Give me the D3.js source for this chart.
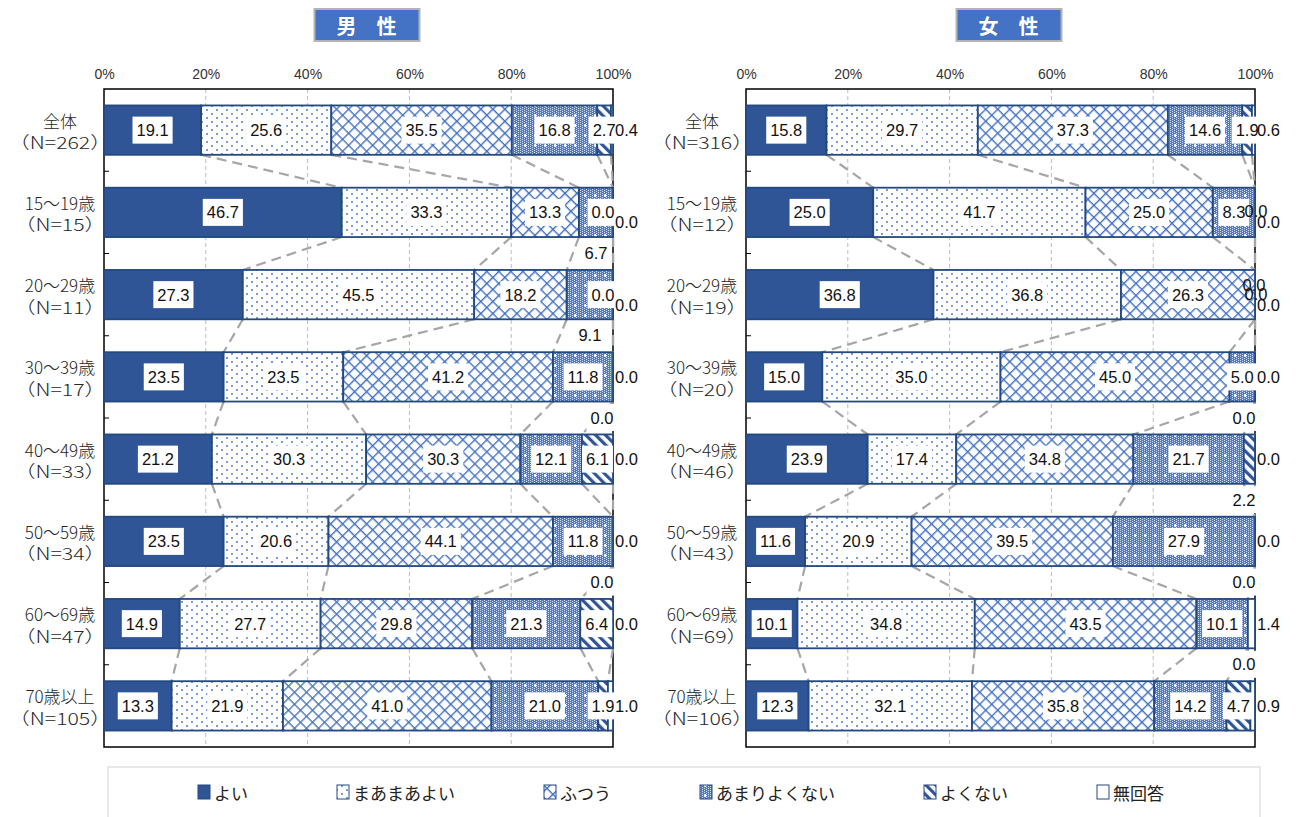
<!DOCTYPE html>
<html>
<head>
<meta charset="utf-8">
<script src="https://cdn.jsdelivr.net/npm/d3@7"></script>
<style>
  body { margin: 0; background: #fff; }
  svg { display: block; }
</style>
</head>
<body>
<svg id="chart" width="1296" height="817"></svg>
<script>
// ---- data ---------------------------------------------------------------
const categories = ["全体", "15～19歳", "20～29歳", "30～39歳", "40～49歳", "50～59歳", "60～69歳", "70歳以上"];
const seriesNames = ["よい", "まあまあよい", "ふつう", "あまりよくない", "よくない", "無回答"];
const pctTicks = [0, 20, 40, 60, 80, 100];

const maleN = [262, 15, 11, 17, 33, 34, 47, 105];
const maleGood    = [19.1, 46.7, 27.3, 23.5, 21.2, 23.5, 14.9, 13.3];
const maleFair    = [25.6, 33.3, 45.5, 23.5, 30.3, 20.6, 27.7, 21.9];
const maleNormal  = [35.5, 13.3, 18.2, 41.2, 30.3, 44.1, 29.8, 41.0];
const maleNotVery = [16.8, 6.7, 9.1, 11.8, 12.1, 11.8, 21.3, 21.0];
const maleBad     = [2.7, 0.0, 0.0, 0.0, 6.1, 0.0, 6.4, 1.9];
const maleNA      = [0.4, 0.0, 0.0, 0.0, 0.0, 0.0, 0.0, 1.0];

const femaleN = [316, 12, 19, 20, 46, 43, 69, 106];
const femaleGood    = [15.8, 25.0, 36.8, 15.0, 23.9, 11.6, 10.1, 12.3];
const femaleFair    = [29.7, 41.7, 36.8, 35.0, 17.4, 20.9, 34.8, 32.1];
const femaleNormal  = [37.3, 25.0, 26.3, 45.0, 34.8, 39.5, 43.5, 35.8];
const femaleNotVery = [14.6, 8.3, 0.0, 5.0, 21.7, 27.9, 10.1, 14.2];
const femaleBad     = [1.9, 0.0, 0.0, 0.0, 2.2, 0.0, 0.0, 4.7];
const femaleNA      = [0.6, 0.0, 0.0, 0.0, 0.0, 0.0, 1.4, 0.9];

// where each value label sits: c = centred in segment, e = just inside the bar end,
// ee = on the bar end, eu = on the bar end raised, b = below the bar,
// r = right of the bar, rl = right of the bar and lowered
const maleLabelModes = [
  ["c", "c", "c", "c", "c", "r"],
  ["c", "c", "c", "b", "e", "rl"],
  ["c", "c", "c", "b", "e", "rl"],
  ["c", "c", "c", "c", "b", "r"],
  ["c", "c", "c", "c", "c", "r"],
  ["c", "c", "c", "c", "b", "r"],
  ["c", "c", "c", "c", "c", "r"],
  ["c", "c", "c", "c", "c", "r"]
];
const femaleLabelModes = [
  ["c", "c", "c", "c", "c", "r"],
  ["c", "c", "c", "c", "ee", "rl"],
  ["c", "c", "c", "eu", "ee", "rl"],
  ["c", "c", "c", "c", "b", "r"],
  ["c", "c", "c", "c", "b", "r"],
  ["c", "c", "c", "c", "b", "r"],
  ["c", "c", "c", "c", "b", "r"],
  ["c", "c", "c", "c", "c", "r"]
];

// ---- styling -------------------------------------------------------------
const NAVY = "#2F5597";
const BLUE = "#4472C4";
const EDGE = "#24497F";
const JP = "'Noto Sans CJK JP', 'Noto Sans', sans-serif";
const NUM = "'Liberation Sans Narrow', 'Arial Narrow', 'Liberation Sans', sans-serif";
const PLOT_TOP = 89, PLOT_BOTTOM = 747;
const N_STRETCH = 1.25;   // the sample-size line is set in a wide face

const svg = d3.select("#chart");
const defs = svg.append("defs");

// まあまあよい: white with small blue dots
const pFair = defs.append("pattern").attr("id", "pat-fair")
  .attr("patternUnits", "userSpaceOnUse").attr("width", 10).attr("height", 8);
pFair.append("rect").attr("width", 10).attr("height", 8).attr("fill", "#fff");
pFair.append("circle").attr("cx", 2).attr("cy", 2).attr("r", 0.95).attr("fill", BLUE);
pFair.append("circle").attr("cx", 7).attr("cy", 6).attr("r", 0.95).attr("fill", BLUE);

// ふつう: diamond lattice
const pNormal = defs.append("pattern").attr("id", "pat-normal")
  .attr("patternUnits", "userSpaceOnUse").attr("width", 8.5).attr("height", 8.5)
  .attr("patternTransform", "rotate(45)");
pNormal.append("rect").attr("width", 8.5).attr("height", 8.5).attr("fill", "#fff");
pNormal.append("rect").attr("width", 8.5).attr("height", 1.4).attr("fill", BLUE);
pNormal.append("rect").attr("width", 1.4).attr("height", 8.5).attr("fill", BLUE);

// あまりよくない: fine blue texture with white crosses
const pNotVery = defs.append("pattern").attr("id", "pat-notvery")
  .attr("patternUnits", "userSpaceOnUse").attr("width", 10).attr("height", 10);
pNotVery.append("rect").attr("width", 10).attr("height", 10).attr("fill", "#5479BE");
for (let i = 0; i < 10; i += 2) {
  for (let j = (i % 4 === 0 ? 0 : 1); j < 10; j += 2) {
    pNotVery.append("rect").attr("x", i).attr("y", j).attr("width", 1).attr("height", 1).attr("fill", "#d3ddf0");
  }
}
pNotVery.append("rect").attr("x", 4).attr("y", 5).attr("width", 3).attr("height", 1).attr("fill", "#fff");
pNotVery.append("rect").attr("x", 5).attr("y", 4).attr("width", 1).attr("height", 3).attr("fill", "#fff");

// よくない: thick diagonal stripes
const pBad = defs.append("pattern").attr("id", "pat-bad")
  .attr("patternUnits", "userSpaceOnUse").attr("width", 7).attr("height", 7)
  .attr("patternTransform", "rotate(-45)");
pBad.append("rect").attr("width", 7).attr("height", 7).attr("fill", "#fff");
pBad.append("rect").attr("width", 3.2).attr("height", 7).attr("fill", NAVY);

const fills = [NAVY, "url(#pat-fair)", "url(#pat-normal)", "url(#pat-notvery)", "url(#pat-bad)", "#fff"];
const seriesKeys = seriesNames.map((_, i) => "s" + i);

// ---- one panel ---------------------------------------------------------------
function drawPanel(cfg) {
  const { x0, x1, title, values, ns, modes } = cfg;
  const g = svg.append("g");

  const x = d3.scaleLinear().domain([0, 1]).range([x0, x1]);
  const xPct = d3.scaleLinear().domain([0, 100]).range([x0, x1]);
  const y = d3.scaleBand().domain(categories).range([PLOT_TOP, PLOT_BOTTOM])
    .paddingInner(0.4).paddingOuter(0.2);
  const bw = y.bandwidth();

  const rows = categories.map((c, i) => {
    const o = { cat: c, idx: i };
    seriesKeys.forEach((k, j) => { o[k] = values[j][i]; });
    return o;
  });
  const stacked = d3.stack().keys(seriesKeys).offset(d3.stackOffsetExpand)(rows);

  // title box
  const tcx = (x0 + x1) / 2 + 8;
  g.append("rect").attr("x", tcx - 52).attr("y", 9).attr("width", 105).attr("height", 32)
    .attr("fill", BLUE).attr("stroke", "#b4b4b4").attr("stroke-width", 2);
  g.append("text").attr("x", tcx).attr("y", 25).attr("text-anchor", "middle")
    .attr("dominant-baseline", "central").attr("fill", "#fff")
    .attr("font-family", JP).attr("font-weight", "bold").attr("font-size", 20)
    .text(title);

  // top percentage axis
  const axis = g.append("g").attr("transform", `translate(0,${PLOT_TOP - 10})`)
    .call(d3.axisTop(xPct).tickValues(pctTicks).tickFormat(d => d + "%").tickSize(0).tickPadding(0));
  axis.select(".domain").remove();
  axis.selectAll("text").attr("font-family", NUM).attr("font-size", 14).attr("fill", "#333");

  // gridlines
  g.append("g").selectAll("line").data(pctTicks.filter(t => t > 0 && t < 100)).join("line")
    .attr("x1", d => xPct(d)).attr("x2", d => xPct(d))
    .attr("y1", PLOT_TOP).attr("y2", PLOT_BOTTOM)
    .attr("stroke", "#bdbdbd").attr("stroke-width", 1).attr("stroke-dasharray", "4,3");

  // plot frame
  g.append("rect").attr("x", x0).attr("y", PLOT_TOP).attr("width", x1 - x0).attr("height", PLOT_BOTTOM - PLOT_TOP)
    .attr("fill", "none").attr("stroke", "#000").attr("stroke-width", 1.5);

  // connector lines between consecutive bars
  const conn = [];
  for (let i = 0; i < categories.length - 1; i++) {
    for (let k = 0; k < seriesKeys.length - 1; k++) {
      conn.push({
        xa: x(stacked[k][i][1]), ya: y(categories[i]) + bw,
        xb: x(stacked[k][i + 1][1]), yb: y(categories[i + 1])
      });
    }
  }
  g.append("g").selectAll("line").data(conn).join("line")
    .attr("x1", d => d.xa).attr("y1", d => d.ya).attr("x2", d => d.xb).attr("y2", d => d.yb)
    .attr("stroke", "#a6a6a6").attr("stroke-width", 2.2).attr("stroke-dasharray", "10,6");

  // bars
  stacked.forEach((layer, k) => {
    g.append("g").selectAll("rect").data(layer).join("rect")
      .attr("x", d => x(d[0])).attr("y", d => y(d.data.cat))
      .attr("width", d => Math.max(0, x(d[1]) - x(d[0]))).attr("height", bw)
      .attr("fill", fills[k]).attr("stroke", EDGE).attr("stroke-width", 1.8);
  });

  // inner ticks on the category axis
  g.append("g").selectAll("line").data(categories.slice(1)).join("line")
    .attr("x1", x0).attr("x2", x0 + 5)
    .attr("y1", d => y(d) - y.step() * y.paddingInner() / 2)
    .attr("y2", d => y(d) - y.step() * y.paddingInner() / 2)
    .attr("stroke", "#000").attr("stroke-width", 1);

  // category labels
  const cl = g.append("g").attr("font-family", JP).attr("font-size", 17).attr("font-weight", 300)
    .attr("fill", "#262626").attr("text-anchor", "middle");
  const lx = x0 - 44;
  categories.forEach((c, i) => {
    const cy = y(c) + bw / 2;
    cl.append("text").attr("x", lx).attr("y", cy - 10).attr("dominant-baseline", "central").text(c);
    cl.append("text").attr("x", lx / N_STRETCH).attr("y", cy + 12)
      .attr("transform", `scale(${N_STRETCH},1)`)
      .attr("dominant-baseline", "central")
      .text("（N=" + ns[i] + "）");
  });

  // value labels
  const lab = g.append("g");
  stacked.forEach((layer, k) => {
    layer.forEach((d, i) => {
      const mode = modes[i][k];
      const top = y(categories[i]);
      const cy = top + bw / 2;
      const seg = x((d[0] + d[1]) / 2);
      let px, py, anchor = "middle", box = true;
      if (mode === "c") { px = seg; py = cy; }
      else if (mode === "e") { px = x1 - 10; py = cy; }
      else if (mode === "ee") { px = x1 + 1; py = cy - 1; box = false; }
      else if (mode === "eu") { px = x1 - 1; py = cy - 10; box = false; }
      else if (mode === "b") { px = Math.min(seg, x1 - 11); py = top + bw + 16; }
      else if (mode === "r") { px = x1 + 2; py = cy; anchor = "start"; box = false; }
      else { px = x1 + 2; py = cy + 10; anchor = "start"; box = false; }
      const lg = lab.append("g");
      const t = lg.append("text").attr("x", px).attr("y", py)
        .attr("text-anchor", anchor).attr("dominant-baseline", "central")
        .attr("font-family", NUM).attr("font-size", 16.5).attr("fill", "#111")
        .text(values[k][i].toFixed(1));
      if (box) {
        const w = t.node().getComputedTextLength() + 8;
        lg.insert("rect", "text").attr("x", px - w / 2).attr("y", py - 13.5)
          .attr("width", w).attr("height", 27).attr("fill", "#fff");
      }
    });
  });
}

drawPanel({
  x0: 104, x1: 613, title: "男　性", ns: maleN, modes: maleLabelModes,
  values: [maleGood, maleFair, maleNormal, maleNotVery, maleBad, maleNA]
});
drawPanel({
  x0: 746, x1: 1255, title: "女　性", ns: femaleN, modes: femaleLabelModes,
  values: [femaleGood, femaleFair, femaleNormal, femaleNotVery, femaleBad, femaleNA]
});

// ---- legend -------------------------------------------------------------
const legend = svg.append("g");
legend.append("rect").attr("x", 108).attr("y", 767).attr("width", 1152).attr("height", 70)
  .attr("fill", "#fff").attr("stroke", "#d9d9d9").attr("stroke-width", 1.2);
let legX = 198;
seriesNames.forEach((name, k) => {
  const item = legend.append("g");
  item.append("rect").attr("x", legX).attr("y", 785).attr("width", 12).attr("height", 14)
    .attr("fill", fills[k]).attr("stroke", EDGE).attr("stroke-width", 1);
  const t = item.append("text").attr("x", legX + 16).attr("y", 792).attr("dominant-baseline", "central")
    .attr("font-family", JP).attr("font-size", 17).attr("fill", "#222").text(name);
  legX += 16 + t.node().getComputedTextLength() + 89;
});
</script>
</body>
</html>
